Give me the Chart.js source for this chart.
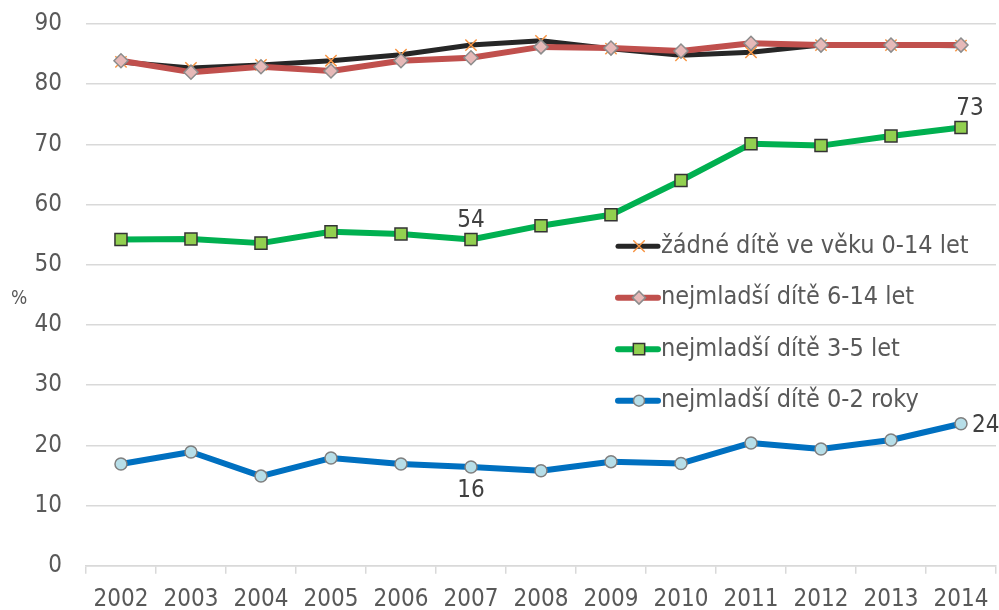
<!DOCTYPE html>
<html lang="cs">
<head>
<meta charset="UTF-8">
<title>Zaměstnanost podle věku nejmladšího dítěte</title>
<script src="https://cdn.jsdelivr.net/npm/chart.js"></script>
<style>
  body { margin: 0; background: #fff; }
  .wrap { width: 999px; height: 610px; position: relative; }
</style>
</head>
<body>
<div class="wrap"><canvas id="chart"></canvas></div>
<script>
// data
const years = ['2002', '2003', '2004', '2005', '2006', '2007', '2008', '2009', '2010', '2011', '2012', '2013', '2014'];
const zadneDite = [83.7, 82.7, 83.2, 83.9, 84.9, 86.5, 87.2, 85.9, 84.8, 85.3, 86.5, 86.5, 86.4];
const dite6_14 = [83.9, 82.0, 82.9, 82.2, 83.9, 84.4, 86.2, 86.0, 85.5, 86.8, 86.5, 86.5, 86.5];
const dite3_5 = [54.2, 54.3, 53.6, 55.5, 55.1, 54.2, 56.5, 58.3, 64.0, 70.1, 69.8, 71.4, 72.8];
const dite0_2 = [16.9, 18.9, 14.9, 17.9, 16.9, 16.4, 15.8, 17.3, 17.0, 20.4, 19.4, 20.9, 23.6];
const seriesNames = ['žádné dítě ve věku 0-14 let', 'nejmladší dítě 6-14 let', 'nejmladší dítě 3-5 let', 'nejmladší dítě 0-2 roky'];
// which points carry a value label: [dataset index, point index, placement]
const pointLabels = [[2, 5, 'above'], [2, 12, 'aboveRight'], [3, 5, 'below'], [3, 12, 'right']];

const FONT = '"DejaVu Sans Condensed", "DejaVu Sans", sans-serif';
const TEXT = '#595959';
const GRID = '#d9d9d9';

const datasets = [
  { label: seriesNames[0], data: zadneDite, borderColor: '#262626', borderWidth: 5,
    pointStyle: 'crossRot', pointRadius: 8, pointBorderColor: '#f79646', pointBorderWidth: 1.5,
    pointBackgroundColor: '#f79646', order: 4 },
  { label: seriesNames[1], data: dite6_14, borderColor: '#c0504d', borderWidth: 6,
    pointStyle: 'rectRot', pointRadius: 7, pointBorderColor: '#8c8c8c', pointBorderWidth: 1.5,
    pointBackgroundColor: '#e6b9b8', order: 3 },
  { label: seriesNames[2], data: dite3_5, borderColor: '#00b050', borderWidth: 6,
    pointStyle: 'rect', pointRadius: 8.5, pointBorderColor: '#333333', pointBorderWidth: 1.5,
    pointBackgroundColor: '#92d050', order: 2 },
  { label: seriesNames[3], data: dite0_2, borderColor: '#0070c0', borderWidth: 6,
    pointStyle: 'circle', pointRadius: 6, pointBorderColor: '#7f7f7f', pointBorderWidth: 1.5,
    pointBackgroundColor: '#b7dee8', order: 1 }
];

// legend drawn inside the plot area, with line + marker sample
const insideLegend = {
  id: 'insideLegend',
  afterDatasetsDraw(chart) {
    const ctx = chart.ctx;
    const x0 = chart.chartArea.right - 378;
    let y = chart.scales.y.getPixelForValue(53.1);
    ctx.save();
    ctx.font = '25px ' + FONT;
    ctx.textBaseline = 'middle';
    chart.data.datasets.forEach((ds) => {
      ctx.strokeStyle = ds.borderColor;
      ctx.lineWidth = ds.borderWidth;
      ctx.lineCap = 'round';
      ctx.beginPath();
      ctx.moveTo(x0, y);
      ctx.lineTo(x0 + 40, y);
      ctx.stroke();
      ctx.fillStyle = ds.pointBackgroundColor;
      ctx.strokeStyle = ds.pointBorderColor;
      ctx.lineWidth = ds.pointBorderWidth;
      Chart.helpers.drawPoint(ctx, {
        pointStyle: ds.pointStyle, radius: ds.pointRadius - 0.5, borderWidth: ds.pointBorderWidth
      }, x0 + 21, y);
      ctx.fillStyle = TEXT;
      ctx.textAlign = 'left';
      ctx.fillText(ds.label, x0 + 43, y);
      y += 51.5;
    });
    ctx.restore();
  }
};

// value labels on chosen points and the "%" axis caption
const extras = {
  id: 'extras',
  afterDatasetsDraw(chart) {
    const ctx = chart.ctx;
    ctx.save();
    ctx.font = '24px ' + FONT;
    ctx.fillStyle = '#404040';
    ctx.textBaseline = 'middle';
    pointLabels.forEach(([d, i, where]) => {
      const pt = chart.getDatasetMeta(d).data[i];
      const txt = Math.round(chart.data.datasets[d].data[i]).toString();
      let x = pt.x, y = pt.y;
      ctx.textAlign = 'center';
      if (where === 'above') y -= 19;
      else if (where === 'below') y += 24;
      else if (where === 'aboveRight') { y -= 19; x += 9; }
      else if (where === 'right') { ctx.textAlign = 'left'; x += 11; y += 2; }
      ctx.fillText(txt, x, y);
    });
    ctx.fillStyle = TEXT;
    ctx.font = '19px ' + FONT;
    ctx.textAlign = 'center';
    ctx.fillText('%', 19, chart.scales.y.getPixelForValue(45) + 4);
    ctx.restore();
  }
};

new Chart(document.getElementById('chart'), {
  type: 'line',
  data: { labels: years, datasets: datasets },
  options: {
    responsive: true,
    maintainAspectRatio: false,
    animation: false,
    layout: { autoPadding: false, padding: { left: 25.5, right: 3, top: 24, bottom: -15 } },
    elements: { line: { tension: 0, borderJoinStyle: 'round' } },
    plugins: { legend: { display: false }, tooltip: { enabled: false } },
    scales: {
      x: {
        offset: true,
        grid: { offset: true, drawOnChartArea: false, drawTicks: true, tickLength: 8, color: GRID, lineWidth: 1.5 },
        border: { color: GRID, width: 1.5 },
        ticks: { color: TEXT, font: { family: FONT, size: 24, lineHeight: 1.3 }, padding: 10, maxRotation: 0 }
      },
      y: {
        min: 0, max: 90,
        grid: { drawTicks: true, tickLength: 15, tickColor: 'rgba(0,0,0,0)', color: GRID, lineWidth: 1.5 },
        border: { display: false },
        ticks: { stepSize: 10, color: TEXT, font: { family: FONT, size: 24 }, padding: 9 }
      }
    }
  },
  plugins: [insideLegend, extras]
});
</script>
</body>
</html>
